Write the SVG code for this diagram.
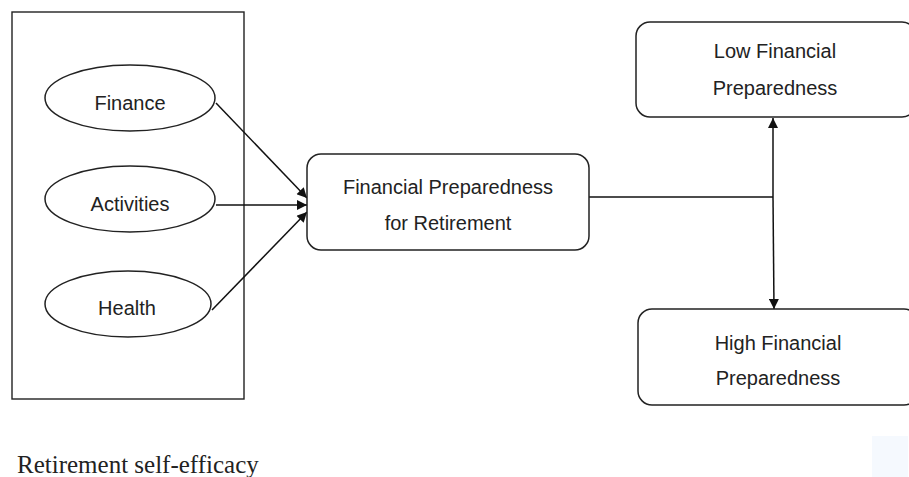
<svg xmlns="http://www.w3.org/2000/svg" width="909" height="477" viewBox="0 0 909 477">
<defs>
<style>
.shape{fill:#fff;stroke:#222;stroke-width:1.5}
.lbl{font-family:"Liberation Sans",Arial,sans-serif;font-size:20px;fill:#222;text-anchor:middle}
.conn{stroke:#111;stroke-width:1.5;fill:none}
</style>
<marker id="arr" viewBox="0 0 10 10" refX="10" refY="5" markerWidth="10" markerHeight="10" markerUnits="userSpaceOnUse" orient="auto">
<path d="M0,0 L10,5 L0,10 z" fill="#111"/>
</marker>
<marker id="arrL" viewBox="0 0 10 10" refX="10" refY="5" markerWidth="13" markerHeight="10" markerUnits="userSpaceOnUse" orient="auto">
<path d="M0,0 L10,5 L0,10 z" fill="#111"/>
</marker>
</defs>
<rect width="909" height="477" fill="#fff"/>
<g id="group-box">
<rect x="12" y="12" width="232" height="387" fill="none" stroke="#222" stroke-width="1.4"/>
</g>
<g id="connectors">
<line class="conn" x1="216" y1="103" x2="307" y2="198" marker-end="url(#arrL)"/>
<line class="conn" x1="216" y1="205" x2="307" y2="205" marker-end="url(#arrL)"/>
<line class="conn" x1="212" y1="310" x2="307" y2="212" marker-end="url(#arrL)"/>
<polyline class="conn" points="589,197 773,197"/>
<line class="conn" x1="773" y1="197" x2="773" y2="118" marker-end="url(#arrL)"/>
<line class="conn" x1="773" y1="197" x2="774" y2="309" marker-end="url(#arr)"/>
</g>
<g id="finance">
<ellipse class="shape" cx="130" cy="98" rx="85" ry="33"/>
<text class="lbl" x="130" y="110">Finance</text>
</g>
<g id="activities">
<ellipse class="shape" cx="130" cy="199" rx="85" ry="33"/>
<text class="lbl" x="130" y="211">Activities</text>
</g>
<g id="health">
<ellipse class="shape" cx="128" cy="304" rx="83" ry="33"/>
<text class="lbl" x="127" y="315">Health</text>
</g>
<g id="fpr">
<rect class="shape" x="307" y="154" width="282" height="96" rx="14"/>
<text class="lbl" x="448" y="194">Financial Preparedness</text>
<text class="lbl" x="448" y="230">for Retirement</text>
</g>
<g id="low">
<rect class="shape" x="636" y="22" width="280" height="95" rx="14"/>
<text class="lbl" x="775" y="58">Low Financial</text>
<text class="lbl" x="775" y="95">Preparedness</text>
</g>
<g id="high">
<rect class="shape" x="638" y="309" width="280" height="96" rx="14"/>
<text class="lbl" x="778" y="350">High Financial</text>
<text class="lbl" x="778" y="385">Preparedness</text>
</g>
<text x="17" y="473" font-family="'Liberation Serif','Times New Roman',serif" font-size="25" fill="#222">Retirement self-efficacy</text>
<rect x="872" y="436" width="36" height="41" fill="#f5f9fe"/>
</svg>
